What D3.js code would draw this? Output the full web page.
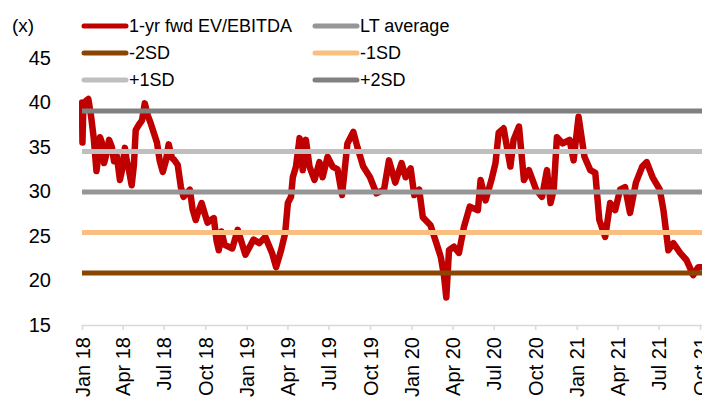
<!DOCTYPE html>
<html>
<head>
<meta charset="utf-8">
<script src="https://cdn.jsdelivr.net/npm/d3@7"></script>
<style>
  body { margin: 0; background: #fff; }
  svg { display: block; font-family: Arial, "Liberation Sans", sans-serif; }
</style>
</head>
<body>
<svg id="chart" width="702" height="402"></svg>
<script>
// ---- data ----
const dates = [
  "2018-01-01","2018-01-02","2018-01-04","2018-01-10","2018-01-15","2018-01-21","2018-01-27","2018-02-02","2018-02-05","2018-02-10",
  "2018-02-14","2018-02-19","2018-02-23","2018-03-02","2018-03-08","2018-03-13","2018-03-19","2018-03-26","2018-03-31","2018-04-06",
  "2018-04-10","2018-04-15","2018-04-21","2018-04-26","2018-04-30","2018-05-07","2018-05-14","2018-05-20","2018-05-27","2018-06-02",
  "2018-06-09","2018-06-16","2018-06-22","2018-06-29","2018-07-06","2018-07-12","2018-07-19","2018-07-25","2018-08-01","2018-08-08",
  "2018-08-14","2018-08-21","2018-08-28","2018-09-03","2018-09-10","2018-09-16","2018-09-23","2018-09-30","2018-10-06","2018-10-13",
  "2018-10-20","2018-10-26","2018-10-31","2018-11-06","2018-11-13","2018-11-30","2018-12-12","2018-12-29","2019-01-16","2019-01-29",
  "2019-02-11","2019-02-26","2019-03-07","2019-03-18","2019-03-27","2019-04-02","2019-04-09","2019-04-13","2019-04-20","2019-04-28",
  "2019-05-05","2019-05-12","2019-05-20","2019-05-31","2019-06-11","2019-06-18","2019-06-29","2019-07-10","2019-07-21","2019-07-31",
  "2019-08-12","2019-08-25","2019-09-03","2019-09-16","2019-10-01","2019-10-15","2019-11-01","2019-11-12","2019-11-26","2019-12-10",
  "2019-12-19","2019-12-30","2020-01-07","2020-01-18","2020-01-26","2020-02-12","2020-02-25","2020-03-06","2020-03-13","2020-03-18",
  "2020-03-24","2020-04-04","2020-04-15","2020-04-26","2020-05-09","2020-05-27","2020-06-02","2020-06-13","2020-06-26","2020-07-05",
  "2020-07-12","2020-07-23","2020-08-07","2020-08-14","2020-08-26","2020-09-06","2020-09-17","2020-10-03","2020-10-16","2020-10-27",
  "2020-11-04","2020-11-11","2020-11-18","2020-12-01","2020-12-16","2020-12-25","2021-01-05","2021-01-18","2021-01-31","2021-02-11",
  "2021-02-20","2021-03-05","2021-03-16","2021-03-27","2021-04-07","2021-04-18","2021-04-29","2021-05-12","2021-05-26","2021-06-05",
  "2021-06-18","2021-07-04","2021-07-12","2021-07-23","2021-08-03","2021-08-18","2021-09-01","2021-09-16","2021-09-27","2021-10-04"
];
const evEbitda = [
  40.0,35.5,39.5,40.2,40.4,38.5,36.0,32.3,33.5,36.1,
  35.5,33.2,34.0,35.8,35.0,33.4,34.0,31.3,32.5,34.9,
  33.5,32.4,30.7,33.0,36.9,37.5,38.0,39.9,38.5,37.7,
  36.6,35.5,33.5,32.2,33.5,35.3,33.8,33.5,33.0,30.5,
  29.4,29.8,30.2,28.0,26.8,27.8,28.7,27.5,26.5,26.8,
  27.0,24.5,23.4,25.5,24.0,23.6,25.7,22.9,24.6,24.2,
  24.9,23.1,21.5,23.4,25.3,28.7,29.4,31.6,32.8,36.0,
  32.4,35.8,32.8,31.3,33.3,31.6,33.9,32.8,32.5,29.6,
  35.4,36.7,35.0,32.8,31.6,29.8,30.2,33.5,31.0,33.2,
  31.6,32.6,29.6,30.2,27.1,26.2,24.2,22.6,20.5,18.1,
  23.4,23.8,23.1,26.0,28.3,27.9,31.3,29.0,31.3,33.2,
  36.6,37.1,32.8,35.8,37.3,31.3,32.4,30.2,29.4,32.4,
  28.7,30.2,36.1,35.4,35.8,33.5,38.4,33.9,32.4,32.1,
  26.8,24.9,28.7,27.9,30.2,30.5,27.6,31.0,32.8,33.3,
  31.6,30.2,27.9,23.4,24.2,23.1,22.3,20.6,21.5,21.5
];

const bandLabels = ["LT average", "-2SD", "-1SD", "+1SD", "+2SD"];
const bandValues = [29.95, 20.85, 25.4, 34.5, 39.05];

const seriesLabel = "1-yr fwd EV/EBITDA";
const tickLabels = ["Jan 18","Apr 18","Jul 18","Oct 18","Jan 19","Apr 19","Jul 19","Oct 19",
                    "Jan 20","Apr 20","Jul 20","Oct 20","Jan 21","Apr 21","Jul 21","Oct 21"];
const yTicks = [15, 20, 25, 30, 35, 40, 45];

// ---- styles ----
const colors = {
  "1-yr fwd EV/EBITDA": "#c00000",
  "LT average": "#969696",
  "-2SD": "#8a4500",
  "-1SD": "#fabf80",
  "+1SD": "#bfbfbf",
  "+2SD": "#808080"
};

const svg = d3.select("#chart");
const W = 702, H = 402;
const m = { left: 82, right: 702, top: 58, bottom: 325 };

const parse = d3.timeParse("%Y-%m-%d");
const parseTick = d3.timeParse("%b %y");
const data = dates.map((d, i) => ({ date: parse(d), v: evEbitda[i] }));
const tickDates = tickLabels.map(parseTick);

const x = d3.scaleTime()
  .domain([parse("2018-01-01"), parse("2021-10-01")])
  .range([82, 700]);
const y = d3.scaleLinear().domain([15, 45]).range([m.bottom, m.top]);

svg.append("defs").append("clipPath").attr("id", "plotclip")
  .append("rect").attr("x", m.left - 3).attr("y", 0).attr("width", W - m.left + 3).attr("height", H);

// x axis
const xAxis = svg.append("g")
  .attr("transform", `translate(0,${m.bottom})`)
  .call(d3.axisBottom(x).tickValues(tickDates).tickFormat(d3.timeFormat("%b %y")).tickSize(5).tickSizeOuter(0));
xAxis.select(".domain").attr("stroke", "#d9d9d9").attr("stroke-width", 1.5)
  .attr("d", `M${m.left},0.5H${W}`);
xAxis.selectAll(".tick line").attr("stroke", "#d9d9d9").attr("stroke-width", 1.5);
xAxis.selectAll(".tick text")
  .attr("font-size", 20)
  .attr("fill", "#000")
  .attr("text-anchor", "end")
  .attr("transform", "rotate(-90)")
  .attr("x", -12)
  .attr("y", 0)
  .attr("dy", "0.35em");

// y axis
const yAxis = svg.append("g")
  .attr("transform", `translate(51,0)`)
  .call(d3.axisLeft(y).tickValues(yTicks).tickSize(0));
yAxis.select(".domain").remove();
yAxis.selectAll(".tick text").attr("font-size", 20).attr("fill", "#000").attr("x", 0);

svg.append("text").attr("x", 12).attr("y", 25).attr("dy", "0.35em")
  .attr("font-size", 19).text("(x)");

// main series
const line = d3.line().x(d => x(d.date)).y(d => y(d.v)).curve(d3.curveLinear);
svg.append("path")
  .datum(data)
  .attr("clip-path", "url(#plotclip)")
  .attr("fill", "none")
  .attr("stroke", colors[seriesLabel])
  .attr("stroke-width", 6.5)
  .attr("stroke-linejoin", "round")
  .attr("stroke-linecap", "round")
  .attr("d", line);

// reference lines (drawn on top)
svg.append("g").selectAll("line")
  .data(bandLabels)
  .join("line")
  .attr("x1", m.left).attr("x2", W)
  .attr("y1", (d, i) => y(bandValues[i])).attr("y2", (d, i) => y(bandValues[i]))
  .attr("stroke", d => colors[d])
  .attr("stroke-width", 5);

// legend
const legendItems = [seriesLabel, "LT average", "-2SD", "-1SD", "+1SD", "+2SD"];
const lg = svg.append("g").selectAll("g")
  .data(legendItems)
  .join("g")
  .attr("transform", (d, i) => `translate(${i % 2 === 0 ? 84 : 315},${26 + Math.floor(i / 2) * 27})`);
lg.append("line")
  .attr("x1", 0).attr("x2", 42)
  .attr("stroke", d => colors[d])
  .attr("stroke-width", 5)
  .attr("stroke-linecap", "round");
lg.append("text")
  .attr("x", 45).attr("dy", "0.35em")
  .attr("font-size", 18)
  .text(d => d);
</script>
</body>
</html>
